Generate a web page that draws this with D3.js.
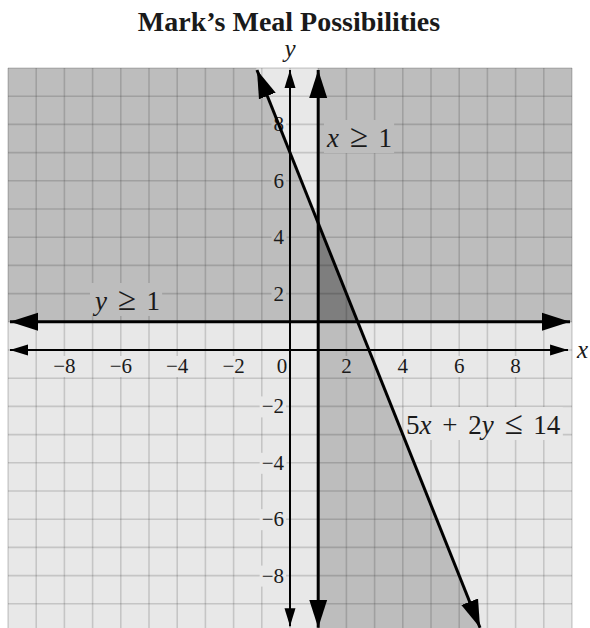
<!DOCTYPE html>
<html>
<head>
<meta charset="utf-8">
<script src="https://cdn.jsdelivr.net/npm/d3@7"></script>
<style>
  body { margin: 0; background: #fff; }
  text { font-family: "Liberation Serif", "Times New Roman", serif; fill: #1a1a1a; }
</style>
</head>
<body>
<div id="chart"></div>
<script>
const width = 590,
  height = 628;

// data
const title = "Mark’s Meal Possibilities";
const xTicks = [-8, -6, -4, -2, 2, 4, 6, 8];
const yTicks = [8, 6, 4, 2, -2, -4, -6, -8];
const gridValues = d3.range(-10, 11);
// each constraint written as a*x + b*y <= c
const constraintNames = ["y ≥ 1", "x ≥ 1", "5x + 2y ≤ 14"];
const constraintA = [0, -1, 5];
const constraintB = [-1, 0, 2];
const constraintC = [-1, -1, 14];

const x = d3.scaleLinear().domain([-10, 10]).range([8, 572]);
const y = d3.scaleLinear().domain([-10, 10]).range([632, 68]);

const svg = d3.select("#chart")
  .append("svg")
  .attr("width", width)
  .attr("height", height);

const defs = svg.append("defs");

function marker(id, len, half) {
  defs.append("marker")
    .attr("id", id)
    .attr("markerUnits", "userSpaceOnUse")
    .attr("viewBox", `0 ${-half - 1} ${len + 1} ${2 * half + 2}`)
    .attr("markerWidth", len + 1)
    .attr("markerHeight", 2 * half + 2)
    .attr("refX", len)
    .attr("refY", 0)
    .attr("orient", "auto-start-reverse")
    .append("path")
    .attr("d", `M0,${-half}L${len},0L0,${half}Z`)
    .attr("fill", "#000");
}
marker("arrowSmall", 18, 5.5);
marker("arrowBig", 28, 9);

// clip the plotting square by half-planes (data space)
function clipPoly(poly, a, b, c) {
  const out = [];
  for (let i = 0; i < poly.length; i++) {
    const p = poly[i], q = poly[(i + 1) % poly.length];
    const fp = a * p[0] + b * p[1] - c, fq = a * q[0] + b * q[1] - c;
    if (fp <= 0) out.push(p);
    if ((fp < 0 && fq > 0) || (fp > 0 && fq < 0)) {
      const t = fp / (fp - fq);
      out.push([p[0] + t * (q[0] - p[0]), p[1] + t * (q[1] - p[1])]);
    }
  }
  return out;
}
function region(idx) {
  let poly = [[-10, -10], [10, -10], [10, 10], [-10, 10]];
  idx.forEach(i => { poly = clipPoly(poly, constraintA[i], constraintB[i], constraintC[i]); });
  return poly;
}
const lineGen = d3.line().x(d => x(d[0])).y(d => y(d[1]));

// background
svg.append("rect")
  .attr("x", x(-10)).attr("y", y(10))
  .attr("width", x(10) - x(-10)).attr("height", y(-10) - y(10))
  .attr("fill", "#e8e8e8");

// overlaps of two constraints, then all three
const pairs = [[0, 1], [0, 2], [1, 2]];
svg.append("g")
  .selectAll("path")
  .data(pairs.map(region))
  .join("path")
  .attr("d", d => lineGen(d) + "Z")
  .attr("fill", "#bdbdbd");

svg.append("path")
  .attr("d", lineGen(region([0, 1, 2])) + "Z")
  .attr("fill", "#7e7e7e");

// grid (masked under the labels)
const mask = defs.append("mask").attr("id", "gridMask").attr("maskUnits", "userSpaceOnUse")
  .attr("x", 0).attr("y", 0).attr("width", width).attr("height", height);
mask.append("rect").attr("width", width).attr("height", height).attr("fill", "#fff");

const grid = svg.append("g")
  .attr("mask", "url(#gridMask)")
  .attr("stroke", "#000")
  .attr("stroke-opacity", 0.15)
  .attr("stroke-width", 1.6);
grid.selectAll(".v")
  .data(gridValues)
  .join("line")
  .attr("class", "v")
  .attr("x1", d => x(d)).attr("x2", d => x(d))
  .attr("y1", y(10)).attr("y2", height);
grid.selectAll(".h")
  .data(gridValues)
  .join("line")
  .attr("class", "h")
  .attr("x1", x(-10)).attr("x2", x(10))
  .attr("y1", d => y(d)).attr("y2", d => y(d));

const labelsG = svg.append("g");

// tick labels
labelsG.selectAll(".xt")
  .data(xTicks)
  .join("text")
  .attr("class", "xt")
  .attr("x", d => x(d))
  .attr("y", y(0) + 23)
  .attr("text-anchor", "middle")
  .attr("font-size", 21)
  .text(d => d3.format("")(d).replace("-", "−"));

labelsG.append("text")
  .attr("x", x(0) - 8)
  .attr("y", y(0) + 23)
  .attr("text-anchor", "middle")
  .attr("font-size", 21)
  .text("0");

labelsG.selectAll(".yt")
  .data(yTicks)
  .join("text")
  .attr("class", "yt")
  .attr("x", x(0) - 6)
  .attr("y", d => y(d) + 7)
  .attr("text-anchor", "end")
  .attr("font-size", 21)
  .text(d => d3.format("")(d).replace("-", "−"));

// axes
svg.append("line")
  .attr("x1", x(-9.93)).attr("x2", x(9.86))
  .attr("y1", y(0)).attr("y2", y(0))
  .attr("stroke", "#000").attr("stroke-width", 2)
  .attr("marker-start", "url(#arrowSmall)")
  .attr("marker-end", "url(#arrowSmall)");
svg.append("line")
  .attr("x1", x(0)).attr("x2", x(0))
  .attr("y1", y(9.93)).attr("y2", y(-9.8))
  .attr("stroke", "#000").attr("stroke-width", 2)
  .attr("marker-start", "url(#arrowSmall)")
  .attr("marker-end", "url(#arrowSmall)");

// boundary lines of the constraints
const yTop = 9.93, yBot = -9.85;
const yLine = constraintC[0] / constraintB[0];
const xLine = constraintC[1] / constraintA[1];
const boundaries = [
  [[-9.93, yLine], [9.93, yLine]],
  [[xLine, yTop], [xLine, yBot]],
  [[(constraintC[2] - constraintB[2] * yTop) / constraintA[2], yTop],
   [(constraintC[2] - constraintB[2] * yBot) / constraintA[2], yBot]]
];
svg.append("g")
  .selectAll("path")
  .data(boundaries)
  .join("path")
  .attr("d", lineGen)
  .attr("fill", "none")
  .attr("stroke", "#000")
  .attr("stroke-width", 3)
  .attr("marker-start", "url(#arrowBig)")
  .attr("marker-end", "url(#arrowBig)");

// constraint labels
function mathLabel(g, str, px, py) {
  const t = g.append("text")
    .attr("x", px).attr("y", py)
    .attr("font-size", 27)
    .style("word-spacing", "4px");
  str.split(/([xy≥≤])/).forEach(part => {
    if (!part) return;
    t.append("tspan")
      .attr("font-style", /^[xy]$/.test(part) ? "italic" : null)
      .attr("font-size", /^[≥≤]$/.test(part) ? 33 : null)
      .text(part);
  });
  return t;
}
mathLabel(labelsG, constraintNames[0], 95, 310);
mathLabel(labelsG, constraintNames[1], 327, 147);
mathLabel(labelsG, constraintNames[2], 406, 434);

// cut the grid under every label
labelsG.selectAll("text").each(function() {
  const b = this.getBBox();
  mask.append("rect")
    .attr("x", b.x - 2).attr("y", b.y + 2)
    .attr("width", b.width + 4).attr("height", b.height - 3)
    .attr("fill", "#000");
});

// titles
svg.append("text")
  .attr("x", 289).attr("y", 31)
  .attr("text-anchor", "middle")
  .attr("font-size", 28)
  .attr("font-weight", "bold")
  .text(title);
svg.append("text")
  .attr("x", 290).attr("y", 57)
  .attr("text-anchor", "middle")
  .attr("font-size", 25)
  .attr("font-style", "italic")
  .text("y");
svg.append("text")
  .attr("x", 577).attr("y", 358)
  .attr("font-size", 25)
  .attr("font-style", "italic")
  .text("x");
</script>
</body>
</html>
